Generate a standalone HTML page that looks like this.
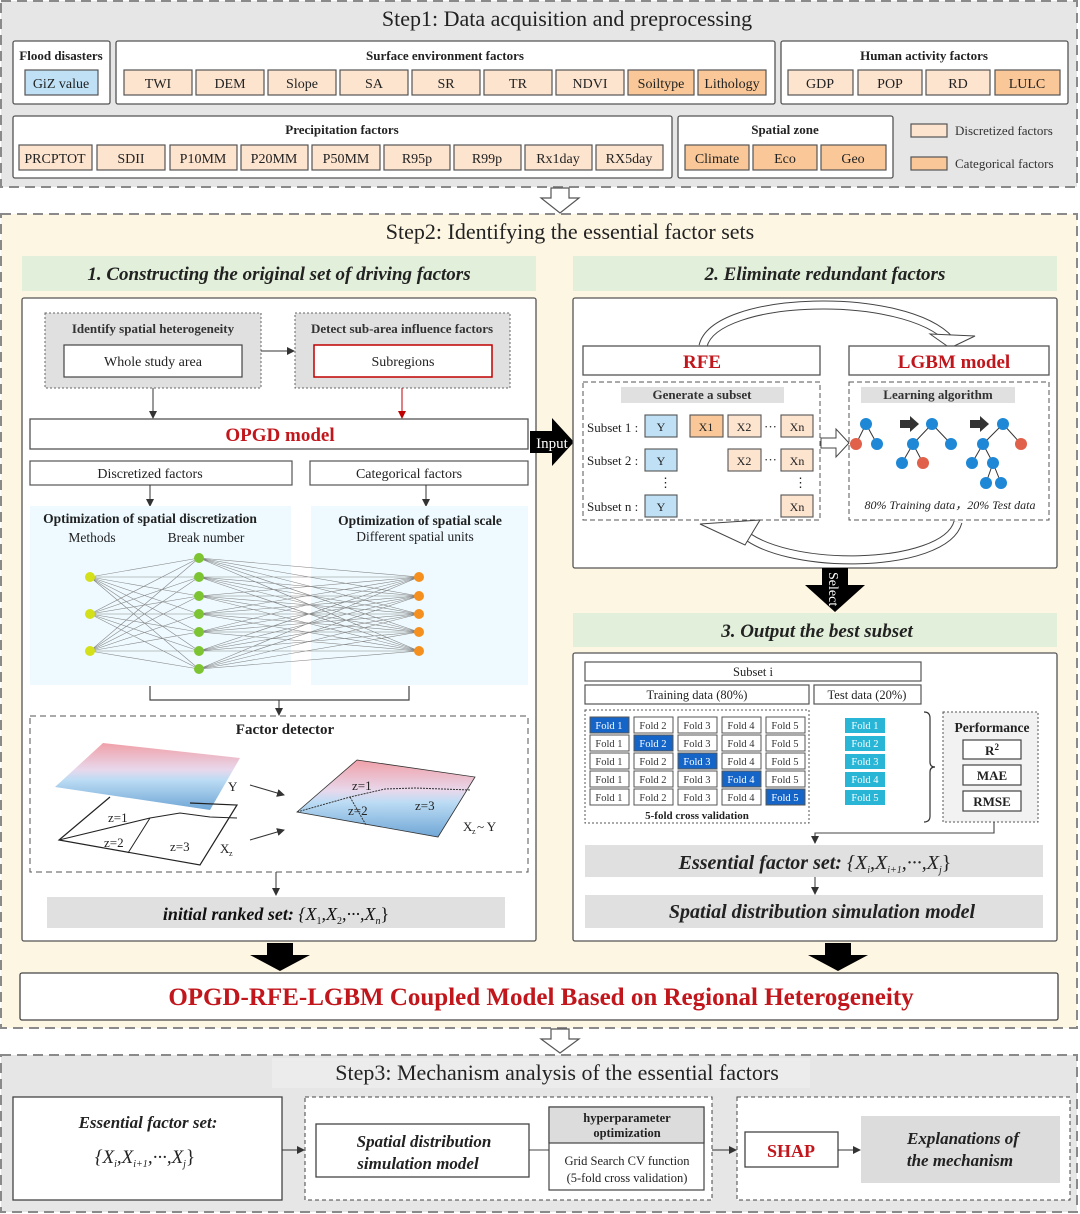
<!DOCTYPE html>
<html><head><meta charset="utf-8"><style>
html,body{margin:0;padding:0;background:#fff;}
svg{display:block;font-family:"Liberation Serif",serif;}
</style></head><body>
<svg width="1080" height="1214" viewBox="0 0 1080 1214" xmlns="http://www.w3.org/2000/svg">
<defs>
<marker id="ah" markerWidth="8" markerHeight="8" refX="7" refY="4" orient="auto" markerUnits="userSpaceOnUse"><path d="M0,0 L8,4 L0,8 z" fill="#333"/></marker>
<marker id="ahr" markerWidth="8" markerHeight="8" refX="7" refY="4" orient="auto" markerUnits="userSpaceOnUse"><path d="M0,0 L8,4 L0,8 z" fill="#c00000"/></marker>
<linearGradient id="gy" x1="0" y1="0" x2="0" y2="1"><stop offset="0" stop-color="#f0a0a8"/><stop offset="0.4" stop-color="#e8d8ec"/><stop offset="0.55" stop-color="#bcdcf4"/><stop offset="1" stop-color="#6fa6d6"/></linearGradient>
</defs>

<!-- STEP 1 -->
<rect x="1" y="1" width="1076" height="186" fill="#e6e6e6" stroke="#8a8a8a" stroke-width="2" stroke-dasharray="10,6"/>
<text x="567" y="26" font-size="22" text-anchor="middle" fill="#222">Step1: Data acquisition and preprocessing</text>
<g stroke="#555" stroke-width="1.3">
<rect x="13" y="41" width="97" height="63" rx="2" fill="#fff"/>
<rect x="116" y="41" width="659" height="63" rx="2" fill="#fff"/>
<rect x="781" y="41" width="287" height="63" rx="2" fill="#fff"/>
<rect x="13" y="116" width="659" height="62" rx="2" fill="#fff"/>
<rect x="678" y="116" width="215" height="62" rx="2" fill="#fff"/>
</g>
<g font-size="13" font-weight="bold" text-anchor="middle" fill="#222">
<text x="61" y="60">Flood disasters</text>
<text x="445" y="60">Surface environment factors</text>
<text x="924" y="60">Human activity factors</text>
<text x="342" y="134">Precipitation factors</text>
<text x="785" y="134">Spatial zone</text>
</g>
<g stroke="#555" stroke-width="1.2">
<rect x="25" y="70" width="73" height="25" fill="#bfe0f5"/>
<rect x="124" y="70" width="68" height="25" fill="#fde4cf"/>
<rect x="196" y="70" width="68" height="25" fill="#fde4cf"/>
<rect x="268" y="70" width="68" height="25" fill="#fde4cf"/>
<rect x="340" y="70" width="68" height="25" fill="#fde4cf"/>
<rect x="412" y="70" width="68" height="25" fill="#fde4cf"/>
<rect x="484" y="70" width="68" height="25" fill="#fde4cf"/>
<rect x="556" y="70" width="68" height="25" fill="#fde4cf"/>
<rect x="628" y="70" width="66" height="25" fill="#fac898"/>
<rect x="698" y="70" width="68" height="25" fill="#fac898"/>
<rect x="788" y="70" width="65" height="25" fill="#fde4cf"/>
<rect x="858" y="70" width="64" height="25" fill="#fde4cf"/>
<rect x="926" y="70" width="64" height="25" fill="#fde4cf"/>
<rect x="995" y="70" width="65" height="25" fill="#fac898"/>
<rect x="19" y="145" width="73" height="25" fill="#fde4cf"/>
<rect x="97" y="145" width="68" height="25" fill="#fde4cf"/>
<rect x="170" y="145" width="67" height="25" fill="#fde4cf"/>
<rect x="241" y="145" width="67" height="25" fill="#fde4cf"/>
<rect x="312" y="145" width="68" height="25" fill="#fde4cf"/>
<rect x="384" y="145" width="66" height="25" fill="#fde4cf"/>
<rect x="454" y="145" width="67" height="25" fill="#fde4cf"/>
<rect x="525" y="145" width="67" height="25" fill="#fde4cf"/>
<rect x="596" y="145" width="67" height="25" fill="#fde4cf"/>
<rect x="685" y="145" width="64" height="25" fill="#fac898"/>
<rect x="753" y="145" width="64" height="25" fill="#fac898"/>
<rect x="821" y="145" width="65" height="25" fill="#fac898"/>
<rect x="911" y="124" width="36" height="13" fill="#fde4cf"/>
<rect x="911" y="157" width="36" height="13" fill="#fac898"/>
</g>
<g font-size="14" text-anchor="middle" fill="#222">
<text x="61" y="88">GiZ value</text>
<text x="158" y="88">TWI</text><text x="230" y="88">DEM</text><text x="302" y="88">Slope</text><text x="374" y="88">SA</text><text x="446" y="88">SR</text><text x="518" y="88">TR</text><text x="590" y="88">NDVI</text><text x="661" y="88">Soiltype</text><text x="732" y="88">Lithology</text>
<text x="820" y="88">GDP</text><text x="890" y="88">POP</text><text x="958" y="88">RD</text><text x="1027" y="88">LULC</text>
<text x="55" y="163">PRCPTOT</text><text x="131" y="163">SDII</text><text x="203" y="163">P10MM</text><text x="274" y="163">P20MM</text><text x="346" y="163">P50MM</text><text x="417" y="163">R95p</text><text x="487" y="163">R99p</text><text x="558" y="163">Rx1day</text><text x="629" y="163">RX5day</text>
<text x="717" y="163">Climate</text><text x="785" y="163">Eco</text><text x="853" y="163">Geo</text>
</g>
<g font-size="13" fill="#333"><text x="955" y="135">Discretized factors</text><text x="955" y="168">Categorical factors</text></g>

<!-- hollow arrow 1 -->
<path d="M551,188 h18 v10 h10 l-19,15 l-19,-15 h10 z" fill="#fff" stroke="#555" stroke-width="1.2"/>

<!-- STEP 2 -->
<rect x="1" y="214" width="1076" height="814" fill="#fdf6e3" stroke="#8a8a8a" stroke-width="2" stroke-dasharray="10,6"/>
<text x="570" y="239" font-size="22" text-anchor="middle" fill="#222">Step2: Identifying the essential factor sets</text>
<rect x="22" y="256" width="514" height="35" fill="#e2efda"/>
<rect x="573" y="256" width="484" height="35" fill="#e2efda"/>
<g font-size="19" font-weight="bold" font-style="italic" text-anchor="middle" fill="#222">
<text x="279" y="280">1. Constructing the original set of driving factors</text>
<text x="825" y="280">2. Eliminate redundant factors</text>
<text x="817" y="637">3. Output the best subset</text>
</g>
<rect x="573" y="613" width="484" height="34" fill="#e2efda"/>
<g font-size="19" font-weight="bold" font-style="italic" text-anchor="middle" fill="#222"><text x="817" y="637">3. Output the best subset</text></g>

<!-- left panel -->
<rect x="22" y="298" width="514" height="643" rx="2" fill="#fff" stroke="#555" stroke-width="1.3"/>
<rect x="45" y="313" width="216" height="75" fill="#e0e0e0" stroke="#666" stroke-dasharray="2,2"/>
<rect x="295" y="313" width="215" height="75" fill="#e0e0e0" stroke="#666" stroke-dasharray="2,2"/>
<g font-size="13" font-weight="bold" text-anchor="middle" fill="#333">
<text x="153" y="333">Identify spatial heterogeneity</text>
<text x="402" y="333">Detect sub-area influence factors</text>
</g>
<rect x="64" y="345" width="178" height="32" fill="#fff" stroke="#444" stroke-width="1.2"/>
<rect x="314" y="345" width="178" height="32" fill="#fff" stroke="#c00000" stroke-width="1.5"/>
<g font-size="14" text-anchor="middle" fill="#222"><text x="153" y="366">Whole study area</text><text x="403" y="366">Subregions</text></g>
<line x1="261" y1="351" x2="294" y2="351" stroke="#333" marker-end="url(#ah)"/>
<line x1="153" y1="388" x2="153" y2="418" stroke="#333" marker-end="url(#ah)"/>
<line x1="402" y1="388" x2="402" y2="418" stroke="#c00000" marker-end="url(#ahr)"/>
<rect x="30" y="419" width="498" height="30" fill="#fff" stroke="#555" stroke-width="1.3"/>
<text x="280" y="441" font-size="19" font-weight="bold" text-anchor="middle" fill="#c0161c">OPGD model</text>
<rect x="30" y="461" width="262" height="24" fill="#fff" stroke="#555" stroke-width="1.2"/>
<rect x="310" y="461" width="218" height="24" fill="#fff" stroke="#555" stroke-width="1.2"/>
<g font-size="14" text-anchor="middle" fill="#222"><text x="150" y="478">Discretized factors</text><text x="409" y="478">Categorical factors</text></g>
<line x1="150" y1="485" x2="150" y2="506" stroke="#333" marker-end="url(#ah)"/>
<line x1="426" y1="485" x2="426" y2="506" stroke="#333" marker-end="url(#ah)"/>
<rect x="30" y="506" width="261" height="179" fill="#eefaff"/>
<rect x="311" y="506" width="217" height="179" fill="#eefaff"/>
<g font-size="13.5" font-weight="bold" text-anchor="middle" fill="#222"><text x="150" y="523">Optimization of spatial discretization</text><text x="420" y="525">Optimization of spatial scale</text></g>
<g font-size="13.5" text-anchor="middle" fill="#222"><text x="92" y="542">Methods</text><text x="206" y="542">Break number</text><text x="415" y="541">Different spatial units</text></g>
<g stroke="#888" stroke-width="0.6">
<path d="M90,577L199,558M90,577L199,577M90,577L199,596M90,577L199,614M90,577L199,632M90,577L199,651M90,577L199,669
M90,614L199,558M90,614L199,577M90,614L199,596M90,614L199,614M90,614L199,632M90,614L199,651M90,614L199,669
M90,651L199,558M90,651L199,577M90,651L199,596M90,651L199,614M90,651L199,632M90,651L199,651M90,651L199,669
M199,558L419,577M199,558L419,596M199,558L419,614M199,558L419,632M199,558L419,651
M199,577L419,577M199,577L419,596M199,577L419,614M199,577L419,632M199,577L419,651
M199,596L419,577M199,596L419,596M199,596L419,614M199,596L419,632M199,596L419,651
M199,614L419,577M199,614L419,596M199,614L419,614M199,614L419,632M199,614L419,651
M199,632L419,577M199,632L419,596M199,632L419,614M199,632L419,632M199,632L419,651
M199,651L419,577M199,651L419,596M199,651L419,614M199,651L419,632M199,651L419,651
M199,669L419,577M199,669L419,596M199,669L419,614M199,669L419,632M199,669L419,651"/>
</g>
<g fill="#d4e01a"><circle cx="90" cy="577" r="5"/><circle cx="90" cy="614" r="5"/><circle cx="90" cy="651" r="5"/></g>
<g fill="#7cc431"><circle cx="199" cy="558" r="5"/><circle cx="199" cy="577" r="5"/><circle cx="199" cy="596" r="5"/><circle cx="199" cy="614" r="5"/><circle cx="199" cy="632" r="5"/><circle cx="199" cy="651" r="5"/><circle cx="199" cy="669" r="5"/></g>
<g fill="#f5901e"><circle cx="419" cy="577" r="5"/><circle cx="419" cy="596" r="5"/><circle cx="419" cy="614" r="5"/><circle cx="419" cy="632" r="5"/><circle cx="419" cy="651" r="5"/></g>
<path d="M150,686 V700 H409 V686" fill="none" stroke="#444" stroke-width="1.2"/>
<line x1="279" y1="700" x2="279" y2="715" stroke="#333" marker-end="url(#ah)"/>
<rect x="30" y="716" width="498" height="156" fill="#fff" stroke="#555" stroke-dasharray="6,4"/>
<text x="285" y="734" font-size="15" font-weight="bold" text-anchor="middle" fill="#222">Factor detector</text>
<polygon points="103,743 240,758 210,810 55,787" fill="url(#gy)"/>
<path d="M190,803 L237,805 L200,865 L59,840 L110,797" fill="none" stroke="#222" stroke-width="1.2"/>
<path d="M59,840 L150,818 L180,813 L210,817 L237,818 M150,818 L128,853" fill="none" stroke="#222" stroke-width="1"/>
<g font-size="13" fill="#222"><text x="228" y="791">Y</text><text x="108" y="822">z=1</text><text x="104" y="847">z=2</text><text x="170" y="851">z=3</text><text x="220" y="853">X</text><text x="229" y="856" font-size="8">z</text></g>
<polygon points="357,760 475,777 438,837 297,812" fill="url(#gy)" stroke="#333" stroke-width="0.8"/>
<path d="M297,812 L350,797 L385,789 L415,788 L470,790 M350,797 L366,825" fill="none" stroke="#333" stroke-dasharray="2,1"/>
<g font-size="13" fill="#222"><text x="352" y="790">z=1</text><text x="348" y="815">z=2</text><text x="415" y="810">z=3</text><text x="463" y="831">X</text><text x="472" y="834" font-size="8">z</text><text x="477" y="831">~ Y</text></g>
<line x1="250" y1="785" x2="284" y2="795" stroke="#333" marker-end="url(#ah)"/>
<line x1="250" y1="840" x2="284" y2="830" stroke="#333" marker-end="url(#ah)"/>
<line x1="276" y1="872" x2="276" y2="895" stroke="#333" marker-end="url(#ah)"/>
<rect x="47" y="897" width="458" height="31" fill="#e0e0e0"/>
<text x="276" y="920" font-size="18" text-anchor="middle" fill="#111"><tspan font-weight="bold" font-style="italic">initial ranked set: </tspan><tspan font-style="italic">{X</tspan><tspan font-size="10" dy="4">1</tspan><tspan dy="-4" font-style="italic">,X</tspan><tspan font-size="10" dy="4">2</tspan><tspan dy="-4" font-style="italic">,···,X</tspan><tspan font-size="10" dy="4" font-style="italic">n</tspan><tspan dy="-4">}</tspan></text>

<!-- Input arrow -->
<path d="M530,431 h22 v-13 l22,24 l-22,24 v-13 h-22 z" fill="#000"/>
<text x="552" y="448" font-size="15" text-anchor="middle" fill="#fff">Input</text>

<!-- right panel 1 -->
<rect x="573" y="298" width="484" height="270" rx="2" fill="#fff" stroke="#555" stroke-width="1.3"/>
<path d="M703,346 C715,295 905,290 950,340" fill="none" stroke="#444" stroke-width="9"/>
<path d="M703,346 C715,295 905,290 950,340" fill="none" stroke="#fff" stroke-width="7"/>
<polygon points="930,334 975,336 950,348" fill="#fff" stroke="#444" stroke-width="1"/>
<rect x="583" y="346" width="237" height="29" fill="#fff" stroke="#555" stroke-width="1.3"/>
<rect x="849" y="346" width="200" height="29" fill="#fff" stroke="#555" stroke-width="1.3"/>
<g font-size="19" font-weight="bold" text-anchor="middle" fill="#c0161c"><text x="702" y="368">RFE</text><text x="954" y="368">LGBM model</text></g>
<rect x="583" y="382" width="237" height="138" fill="#fff" stroke="#555" stroke-dasharray="5,3"/>
<rect x="849" y="382" width="200" height="138" fill="#fff" stroke="#555" stroke-dasharray="5,3"/>
<rect x="621" y="387" width="163" height="16" fill="#e0e0e0"/>
<rect x="861" y="387" width="154" height="16" fill="#e0e0e0"/>
<g font-size="13" font-weight="bold" text-anchor="middle" fill="#333"><text x="702" y="399">Generate a  subset</text><text x="938" y="399">Learning algorithm</text></g>
<g font-size="13" fill="#222"><text x="587" y="432">Subset 1 :</text><text x="587" y="465">Subset 2 :</text><text x="587" y="511">Subset n :</text>
<text x="659" y="487">⋮</text><text x="794" y="487">⋮</text><text x="764" y="431">···</text><text x="764" y="464">···</text></g>
<g stroke="#555" stroke-width="1.1">
<rect x="645" y="415" width="32" height="22" fill="#bfe0f5"/><rect x="645" y="449" width="32" height="22" fill="#bfe0f5"/><rect x="645" y="495" width="32" height="22" fill="#bfe0f5"/>
<rect x="690" y="415" width="33" height="22" fill="#fac898"/>
<rect x="728" y="415" width="33" height="22" fill="#fde4cf"/><rect x="728" y="449" width="33" height="22" fill="#fde4cf"/>
<rect x="781" y="415" width="32" height="22" fill="#fde4cf"/><rect x="781" y="449" width="32" height="22" fill="#fde4cf"/><rect x="781" y="495" width="32" height="22" fill="#fde4cf"/>
</g>
<g font-size="12" text-anchor="middle" fill="#222">
<text x="661" y="431">Y</text><text x="661" y="465">Y</text><text x="661" y="511">Y</text>
<text x="706" y="431">X1</text><text x="744" y="431">X2</text><text x="744" y="465">X2</text>
<text x="797" y="431">Xn</text><text x="797" y="465">Xn</text><text x="797" y="511">Xn</text></g>
<path d="M821,438 h15 v-9 l13,14 l-13,14 v-9 h-15 z" fill="#fff" stroke="#444"/>
<g stroke="#333" stroke-width="1">
<path d="M866,424 L856,444 M866,424 L877,444 M932,424 L913,444 M932,424 L951,444 M913,444 L902,463 M913,444 L923,463 M1003,424 L983,444 M1003,424 L1021,444 M983,444 L972,463 M983,444 L993,463 M993,463 L986,483 M993,463 L1001,483"/>
</g>
<g fill="#1e88d6"><circle cx="866" cy="424" r="6"/><circle cx="877" cy="444" r="6"/><circle cx="932" cy="424" r="6"/><circle cx="913" cy="444" r="6"/><circle cx="951" cy="444" r="6"/><circle cx="902" cy="463" r="6"/><circle cx="1003" cy="424" r="6"/><circle cx="983" cy="444" r="6"/><circle cx="972" cy="463" r="6"/><circle cx="993" cy="463" r="6"/><circle cx="986" cy="483" r="6"/><circle cx="1001" cy="483" r="6"/></g>
<g fill="#e0604a"><circle cx="856" cy="444" r="6"/><circle cx="923" cy="463" r="6"/><circle cx="1021" cy="444" r="6"/></g>
<path d="M900,420 h10 v-4 l9,8 l-9,8 v-4 h-10 z" fill="#333"/>
<path d="M970,420 h10 v-4 l9,8 l-9,8 v-4 h-10 z" fill="#333"/>
<text x="950" y="509" font-size="12" font-style="italic" text-anchor="middle" fill="#222">80% Training data，20% Test data</text>
<path d="M958,522 C945,570 780,572 740,530" fill="none" stroke="#444" stroke-width="9"/>
<path d="M958,522 C945,570 780,572 740,530" fill="none" stroke="#fff" stroke-width="7"/>
<polygon points="760,520 700,524 745,545" fill="#fff" stroke="#444" stroke-width="1"/>

<!-- Select arrow -->
<path d="M822,568 h26 v17 h17 l-30,27 l-30,-27 h17 z" fill="#000"/>
<text transform="translate(829,572) rotate(90)" font-size="14" fill="#fff">Select</text>

<!-- right panel 2 -->
<rect x="573" y="653" width="484" height="288" rx="2" fill="#fff" stroke="#555" stroke-width="1.3"/>
<rect x="585" y="662" width="336" height="19" fill="#fff" stroke="#555" stroke-width="1.2"/>
<rect x="585" y="685" width="224" height="19" fill="#fff" stroke="#555" stroke-width="1.2"/>
<rect x="814" y="685" width="107" height="19" fill="#fff" stroke="#555" stroke-width="1.2"/>
<g font-size="12.5" text-anchor="middle" fill="#222"><text x="753" y="676">Subset i</text><text x="697" y="699">Training data (80%)</text><text x="867" y="699">Test data (20%)</text></g>
<rect x="585" y="710" width="224" height="113" fill="#fff" stroke="#555" stroke-dasharray="2,2"/>
<g stroke="#555" stroke-width="1" fill="#fff">
<rect x="590" y="717" width="39" height="16" fill="#1565c8"/><rect x="634" y="717" width="39" height="16"/><rect x="678" y="717" width="39" height="16"/><rect x="722" y="717" width="39" height="16"/><rect x="766" y="717" width="39" height="16"/>
<rect x="590" y="735" width="39" height="16"/><rect x="634" y="735" width="39" height="16" fill="#1565c8"/><rect x="678" y="735" width="39" height="16"/><rect x="722" y="735" width="39" height="16"/><rect x="766" y="735" width="39" height="16"/>
<rect x="590" y="753" width="39" height="16"/><rect x="634" y="753" width="39" height="16"/><rect x="678" y="753" width="39" height="16" fill="#1565c8"/><rect x="722" y="753" width="39" height="16"/><rect x="766" y="753" width="39" height="16"/>
<rect x="590" y="771" width="39" height="16"/><rect x="634" y="771" width="39" height="16"/><rect x="678" y="771" width="39" height="16"/><rect x="722" y="771" width="39" height="16" fill="#1565c8"/><rect x="766" y="771" width="39" height="16"/>
<rect x="590" y="789" width="39" height="16"/><rect x="634" y="789" width="39" height="16"/><rect x="678" y="789" width="39" height="16"/><rect x="722" y="789" width="39" height="16"/><rect x="766" y="789" width="39" height="16" fill="#1565c8"/>
</g>
<g fill="#29b6d6"><rect x="845" y="718" width="40" height="15"/><rect x="845" y="736" width="40" height="15"/><rect x="845" y="754" width="40" height="15"/><rect x="845" y="772" width="40" height="15"/><rect x="845" y="790" width="40" height="15"/></g>
<g font-size="10.5" text-anchor="middle" fill="#333">
<text x="609" y="729" fill="#fff">Fold 1</text><text x="653" y="729">Fold 2</text><text x="697" y="729">Fold 3</text><text x="741" y="729">Fold 4</text><text x="785" y="729">Fold 5</text>
<text x="609" y="747">Fold 1</text><text x="653" y="747" fill="#fff">Fold 2</text><text x="697" y="747">Fold 3</text><text x="741" y="747">Fold 4</text><text x="785" y="747">Fold 5</text>
<text x="609" y="765">Fold 1</text><text x="653" y="765">Fold 2</text><text x="697" y="765" fill="#fff">Fold 3</text><text x="741" y="765">Fold 4</text><text x="785" y="765">Fold 5</text>
<text x="609" y="783">Fold 1</text><text x="653" y="783">Fold 2</text><text x="697" y="783">Fold 3</text><text x="741" y="783" fill="#fff">Fold 4</text><text x="785" y="783">Fold 5</text>
<text x="609" y="801">Fold 1</text><text x="653" y="801">Fold 2</text><text x="697" y="801">Fold 3</text><text x="741" y="801">Fold 4</text><text x="785" y="801" fill="#fff">Fold 5</text>
<text x="865" y="729" fill="#fff">Fold 1</text><text x="865" y="747" fill="#fff">Fold 2</text><text x="865" y="765" fill="#fff">Fold 3</text><text x="865" y="783" fill="#fff">Fold 4</text><text x="865" y="801" fill="#fff">Fold 5</text>
</g>
<text x="697" y="819" font-size="11" font-weight="bold" text-anchor="middle" fill="#222">5-fold cross validation</text>
<path d="M924,712 q6,0 6,6 v44 q0,5 5,5 q-5,0 -5,5 v44 q0,6 -6,6" fill="none" stroke="#333" stroke-width="1.2"/>
<rect x="943" y="712" width="95" height="110" fill="#f2f2f2" stroke="#555" stroke-dasharray="2,2"/>
<text x="992" y="732" font-size="13.5" font-weight="bold" text-anchor="middle" fill="#222">Performance</text>
<g stroke="#444" stroke-width="1.2" fill="#fff"><rect x="963" y="740" width="58" height="19"/><rect x="963" y="765" width="58" height="20"/><rect x="963" y="791" width="58" height="20"/></g>
<g font-size="13" font-weight="bold" text-anchor="middle" fill="#222"><text x="992" y="755">R<tspan font-size="9" dy="-5">2</tspan></text><text x="992" y="780">MAE</text><text x="992" y="806">RMSE</text></g>
<path d="M994,822 V833 H815 V843" fill="none" stroke="#444" stroke-width="1.1" marker-end="url(#ah)"/>
<rect x="585" y="845" width="458" height="32" fill="#e0e0e0"/>
<text x="815" y="869" font-size="20" text-anchor="middle" fill="#222"><tspan font-style="italic" font-weight="bold">Essential factor set: </tspan><tspan font-style="italic">{X</tspan><tspan font-size="10" dy="4" font-style="italic">i</tspan><tspan dy="-4" font-style="italic">,X</tspan><tspan font-size="10" dy="4" font-style="italic">i+1</tspan><tspan dy="-4" font-style="italic">,···,X</tspan><tspan font-size="10" dy="4" font-style="italic">j</tspan><tspan dy="-4">}</tspan></text>
<line x1="815" y1="877" x2="815" y2="894" stroke="#333" marker-end="url(#ah)"/>
<rect x="585" y="895" width="458" height="33" fill="#e0e0e0"/>
<text x="822" y="918" font-size="20" font-style="italic" font-weight="bold" text-anchor="middle" fill="#222">Spatial distribution simulation model</text>

<!-- black down arrows -->
<path d="M267,943 h26 v12 h17 l-30,16 l-30,-16 h17 z" fill="#000"/>
<path d="M825,943 h26 v12 h17 l-30,16 l-30,-16 h17 z" fill="#000"/>
<rect x="20" y="973" width="1038" height="47" rx="2" fill="#fff" stroke="#444" stroke-width="1.3"/>
<text x="541" y="1005" font-size="25" font-weight="bold" text-anchor="middle" fill="#c0161c">OPGD-RFE-LGBM Coupled Model Based on Regional Heterogeneity</text>

<!-- hollow arrow 2 -->
<path d="M551,1029 h18 v10 h10 l-19,14 l-19,-14 h10 z" fill="#fff" stroke="#555" stroke-width="1.2"/>

<!-- STEP 3 -->
<rect x="1" y="1055" width="1076" height="157" fill="#e6e6e6" stroke="#8a8a8a" stroke-width="2" stroke-dasharray="10,6"/>
<rect x="272" y="1058" width="538" height="30" fill="#ececec"/>
<text x="557" y="1080" font-size="22" text-anchor="middle" fill="#222">Step3: Mechanism analysis of the essential factors</text>
<rect x="13" y="1097" width="269" height="103" fill="#fff" stroke="#444" stroke-width="1.3"/>
<text x="148" y="1128" font-size="17" font-weight="bold" font-style="italic" text-anchor="middle" fill="#222">Essential factor set:</text>
<text x="145" y="1163" font-size="19" text-anchor="middle" fill="#222"><tspan font-style="italic">{X</tspan><tspan font-size="10" dy="4" font-style="italic">i</tspan><tspan dy="-4" font-style="italic">,X</tspan><tspan font-size="10" dy="4" font-style="italic">i+1</tspan><tspan dy="-4" font-style="italic">,···,X</tspan><tspan font-size="10" dy="4" font-style="italic">j</tspan><tspan dy="-4">}</tspan></text>
<line x1="282" y1="1150" x2="304" y2="1150" stroke="#333" marker-end="url(#ah)"/>
<rect x="305" y="1097" width="407" height="103" fill="#fff" stroke="#444" stroke-dasharray="4,3"/>
<rect x="316" y="1124" width="213" height="53" fill="#fff" stroke="#444" stroke-width="1.3"/>
<g font-size="17" font-weight="bold" font-style="italic" text-anchor="middle" fill="#222"><text x="424" y="1147">Spatial distribution</text><text x="418" y="1169">simulation model</text></g>
<line x1="529" y1="1150" x2="549" y2="1150" stroke="#444"/>
<rect x="549" y="1107" width="155" height="83" fill="#fff" stroke="#444" stroke-width="1.2"/>
<rect x="549" y="1107" width="155" height="36" fill="#dcdcdc" stroke="#444" stroke-width="1.2"/>
<g font-size="12.5" font-weight="bold" text-anchor="middle" fill="#222"><text x="627" y="1122">hyperparameter</text><text x="627" y="1137">optimization</text></g>
<g font-size="12.5" text-anchor="middle" fill="#222"><text x="627" y="1165">Grid Search CV function</text><text x="627" y="1182">(5-fold cross validation)</text></g>
<line x1="712" y1="1150" x2="736" y2="1150" stroke="#333" marker-end="url(#ah)"/>
<rect x="737" y="1097" width="333" height="103" fill="#fff" stroke="#444" stroke-dasharray="4,3"/>
<rect x="745" y="1132" width="93" height="35" fill="#fff" stroke="#444" stroke-width="1.3"/>
<text x="791" y="1157" font-size="18" font-weight="bold" text-anchor="middle" fill="#c0161c">SHAP</text>
<line x1="838" y1="1150" x2="860" y2="1150" stroke="#333" marker-end="url(#ah)"/>
<rect x="861" y="1116" width="199" height="67" fill="#dcdcdc"/>
<g font-size="17" font-weight="bold" font-style="italic" text-anchor="middle" fill="#222"><text x="963" y="1144">Explanations of</text><text x="960" y="1166">the mechanism</text></g>
</svg>
</body></html>
